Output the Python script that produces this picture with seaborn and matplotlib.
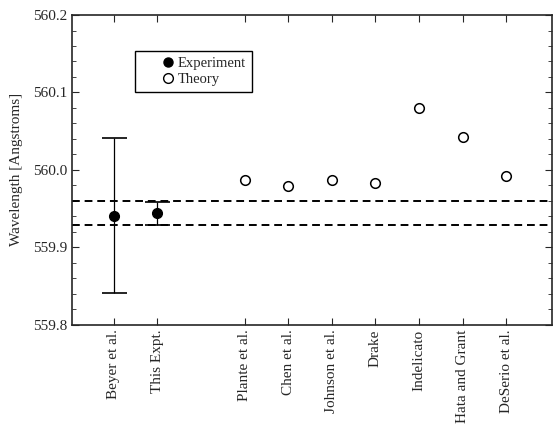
import numpy as np
import pandas as pd
import seaborn as sns
import matplotlib.pyplot as plt
from matplotlib.ticker import MultipleLocator
from matplotlib.lines import Line2D

# Datos
etiquetas = ['Beyer et al.', 'This Expt.', 'Plante et al.', 'Chen et al.',
             'Johnson et al.', 'Drake', 'Indelicato', 'Hata and Grant', 'DeSerio et al.']
posiciones = [1, 2, 4, 5, 6, 7, 8, 9, 10]

exp_pos = [1, 2]
exp_valor = [559.941, 559.944]
exp_error = [0.100, 0.015]

teo_pos = [4, 5, 6, 7, 8, 9, 10]
teo_valor = [559.987, 559.979, 559.987, 559.983, 560.080, 560.043, 559.992]

banda = [559.960, 559.929]

teoria_df = pd.DataFrame({'x': teo_pos, 'y': teo_valor})

sns.set_style('ticks')
plt.rcParams['font.family'] = ['Liberation Serif', 'DejaVu Serif']

fig, ax = plt.subplots(figsize=(5.55, 4.3), dpi=100)
fig.subplots_adjust(left=0.13, right=0.995, top=0.965, bottom=0.245)

ax.errorbar(exp_pos, exp_valor, yerr=exp_error, fmt='o', color='black',
            markersize=7, elinewidth=0.9, capsize=9, capthick=1.2)
sns.scatterplot(data=teoria_df, x='x', y='y', ax=ax, marker='o', s=48,
                facecolor='white', edgecolor='black', linewidth=1.1, zorder=3)

for b in banda:
    ax.axhline(b, color='black', linestyle=(0, (4, 2.5)), linewidth=1.4)

ax.set_xlim(0.05, 11.05)
ax.set_ylim(559.8, 560.2)
ax.set_xticks(posiciones)
ax.set_xticklabels(etiquetas, rotation=90, fontsize=11)
ax.yaxis.set_major_locator(MultipleLocator(0.1))
ax.yaxis.set_minor_locator(MultipleLocator(0.02))
ax.set_yticks([559.8, 559.9, 560.0, 560.1, 560.2])
ax.set_yticklabels(['559.8', '559.9', '560.0', '560.1', '560.2'], fontsize=11)
ax.tick_params(which='both', direction='in', top=True, right=True)
ax.tick_params(which='major', length=5)
ax.tick_params(which='minor', length=3)
ax.set_xlabel('')
ax.set_ylabel('Wavelength [Angstroms]', fontsize=11, labelpad=7)
for s in ax.spines.values():
    s.set_linewidth(1.2)

handles = [Line2D([], [], marker='o', linestyle='', color='black', markersize=6.5),
           Line2D([], [], marker='o', linestyle='', markerfacecolor='white',
                  markeredgecolor='black', markersize=7)]
leg = ax.legend(handles, ['Experiment', 'Theory'], loc='upper left',
                bbox_to_anchor=(0.13, 0.885), fancybox=False, framealpha=1,
                edgecolor='black', fontsize=10.5, handlelength=3.8,
                handletextpad=-1.25, borderpad=0.4, labelspacing=0.2,
                borderaxespad=0)
leg.get_frame().set_linewidth(1.0)

plt.savefig('out.png', dpi=100)
